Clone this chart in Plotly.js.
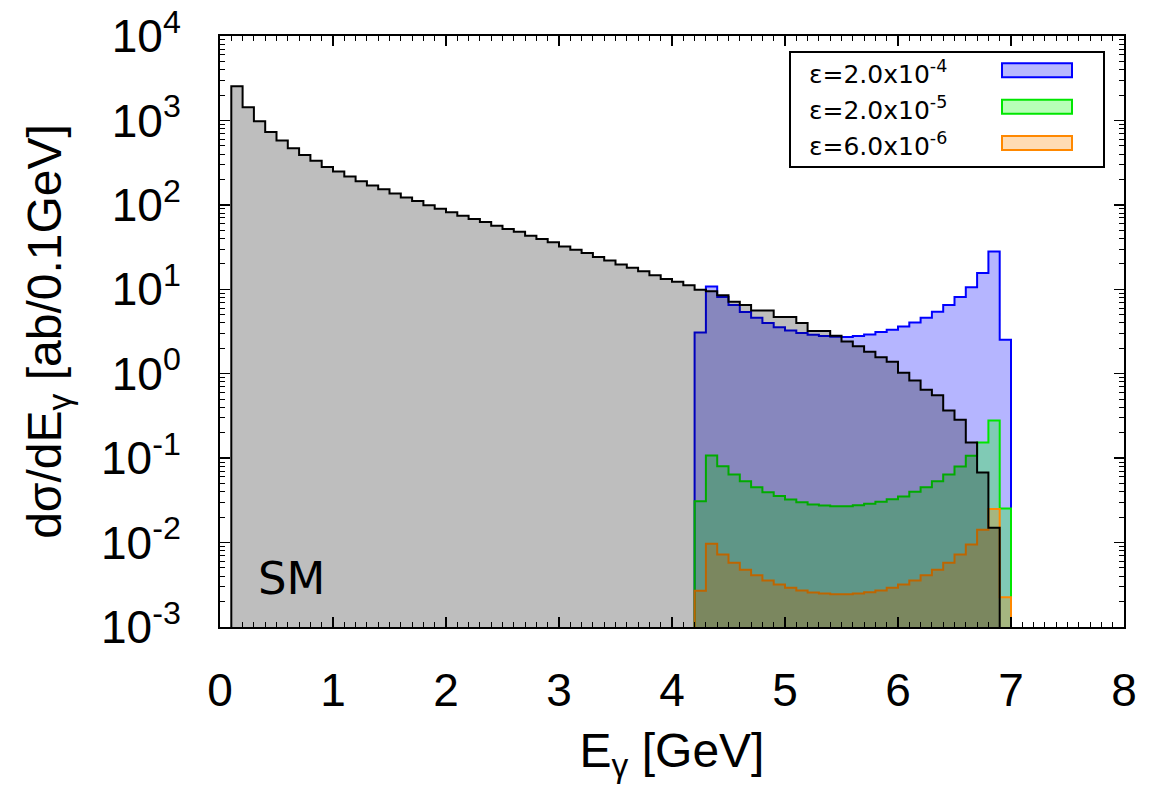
<!DOCTYPE html>
<html>
<head>
<meta charset="utf-8">
<script src="https://cdn.plot.ly/plotly-3.0.1.min.js"></script>
<style>
html,body{margin:0;padding:0;background:#ffffff;}
#chart{width:1150px;height:796px;}
</style>
</head>
<body>
<div id="chart"></div>
<script>
// ---------------- data ----------------
const binWidth = 0.1;

// SM background, bins starting at 0.1 GeV
const smStart = 0.1;
const smValues = [
  2535, 1429, 975, 729, 577, 467, 389, 334, 281,
  249, 216, 191, 169, 153, 136, 122, 111, 98.6, 90,
  82, 74.5, 68, 62.5, 56.6, 51.6, 48, 43, 39.4, 36,
  32.2, 29.4, 26.9, 24.1, 22, 19.7, 18, 16.4, 14.7, 13.2,
  12.3, 11.2, 9.9, 9.5, 8.5, 7.1, 6.5, 5.6, 5.6, 4.7,
  4.7, 4.0, 3.2, 3.2, 2.82, 2.4, 2.11, 1.82, 1.57, 1.39,
  1.03, 0.83, 0.645, 0.557, 0.367, 0.285, 0.153, 0.0678, 0.015
];

// signal histograms, bins starting at 4.2 GeV
const sigStart = 4.2;
const epsA = [ // eps = 2.0e-4
  3.08, 10.8, 8.1, 6.5, 5.4, 4.6, 4.0, 3.56, 3.26, 3.03,
  2.9, 2.79, 2.74, 2.72, 2.8, 2.92, 3.11, 3.32, 3.63, 4.05,
  4.6, 5.42, 6.5, 8.1, 10.6, 15.6, 28, 2.53
];
const epsB = [ // eps = 2.0e-5
  0.0309, 0.1077, 0.0804, 0.0641, 0.0534, 0.0453, 0.0395, 0.0355, 0.0324, 0.0301,
  0.0283, 0.0275, 0.027, 0.027, 0.0277, 0.0288, 0.0304, 0.0327, 0.0352, 0.040,
  0.0453, 0.0534, 0.064, 0.0797, 0.1067, 0.153, 0.28, 0.0254
];
const epsC = [ // eps = 6.0e-6
  0.00269, 0.0097, 0.00723, 0.00576, 0.00476, 0.00411, 0.00356, 0.00319, 0.00291, 0.0027,
  0.00256, 0.00249, 0.00245, 0.00245, 0.00249, 0.00258, 0.0027, 0.00291, 0.00319, 0.00356,
  0.00411, 0.00476, 0.00576, 0.00723, 0.0095, 0.0142, 0.0249, 0.00225
];

const legendLabels = [
  'ε=2.0x10<sup>-4</sup>',
  'ε=2.0x10<sup>-5</sup>',
  'ε=6.0x10<sup>-6</sup>'
];
const xTickVals = [0, 1, 2, 3, 4, 5, 6, 7, 8];
const yTickVals = [1e-3, 1e-2, 1e-1, 1e0, 1e1, 1e2, 1e3, 1e4];
const yTickText = ['10<sup>-3</sup>', '10<sup>-2</sup>', '10<sup>-1</sup>', '10<sup>0</sup>',
                   '10<sup>1</sup>', '10<sup>2</sup>', '10<sup>3</sup>', '10<sup>4</sup>'];

// ---------------- styling ----------------
const BASE = 1e-5; // baseline below the visible axis range
const colors = {
  sm:   {line: '#000000', fill: 'rgba(0,0,0,0.255)'},
  a:    {line: '#0000ff', fill: 'rgba(0,0,255,0.29)'},
  b:    {line: '#00e600', fill: 'rgba(0,255,0,0.29)'},
  c:    {line: '#ff8800', fill: 'rgba(255,136,0,0.29)'}
};

function r2(v){ return Math.round(v * 1000) / 1000; }

function stepTrace(start, vals, col){
  const x = [start], y = [BASE];
  vals.forEach((v, i) => { x.push(r2(start + i * binWidth)); y.push(v); });
  const end = r2(start + vals.length * binWidth);
  x.push(end); y.push(vals[vals.length - 1]);
  x.push(end); y.push(BASE);
  return {
    type: 'scatter', mode: 'lines', x: x, y: y,
    line: {shape: 'hv', color: col.line, width: 2},
    fill: 'toself', fillcolor: col.fill,
    hoverinfo: 'skip', showlegend: false
  };
}

const traces = [
  stepTrace(sigStart, epsA, colors.a),
  stepTrace(sigStart, epsB, colors.b),
  stepTrace(sigStart, epsC, colors.c),
  stepTrace(smStart, smValues, colors.sm)
];

// plot area in pixels
const L = 220, R = 26, T = 36, B = 169, W = 1150, H = 796;
const PW = W - L - R, PH = H - T - B;
const px = v => (v - L) / PW;
const py = v => 1 - (v - T) / PH;

// minor ticks for log axis
const yMinor = [];
for (let d = -3; d < 4; d++) for (let k = 2; k <= 9; k++) yMinor.push(k * Math.pow(10, d));

const shapes = [
  {type: 'rect', xref: 'paper', yref: 'paper', x0: px(790), x1: px(1104), y0: py(52), y1: py(167),
   line: {color: '#000', width: 2}, fillcolor: '#ffffff', layer: 'above'}
];
const swatchY = [70.3, 106.7, 143];
const swatchCols = [colors.a, colors.b, colors.c];
const swatchFill = ['#b8b8ff', '#b8ffb8', '#ffdcb4'];
const annotations = [];
swatchY.forEach((yc, i) => {
  shapes.push({type: 'rect', xref: 'paper', yref: 'paper', x0: px(1002), x1: px(1072),
    y0: py(yc - 7), y1: py(yc + 7), line: {color: swatchCols[i].line, width: 2},
    fillcolor: swatchFill[i], layer: 'above'});
  annotations.push({xref: 'paper', yref: 'paper', x: px(807), y: py(yc + 2),
    xanchor: 'left', yanchor: 'middle', showarrow: false, text: legendLabels[i],
    font: {family: 'DejaVu Sans', size: 25, color: '#000'}});
});
annotations.push({xref: 'paper', yref: 'paper', x: px(256), y: py(578), xanchor: 'left', yanchor: 'middle',
  showarrow: false, text: 'SM', font: {family: 'DejaVu Sans', size: 45, color: '#000'}});

const axisFont = {family: 'Liberation Sans, Arial, sans-serif', size: 46, color: '#000'};

const layout = {
  width: W, height: H,
  margin: {l: L, r: R, t: T, b: B, pad: 0},
  paper_bgcolor: '#ffffff', plot_bgcolor: '#ffffff',
  showlegend: false,
  xaxis: {
    range: [0, 8], tickmode: 'array', tickvals: xTickVals, ticktext: xTickVals.map(String),
    ticks: 'inside', ticklen: 10, tickwidth: 1.5, tickcolor: '#000',
    minor: {tickmode: 'linear', tick0: 0, dtick: 0.1, ticks: 'inside', ticklen: 5, tickwidth: 1, tickcolor: '#000', showgrid: false},
    showline: true, linewidth: 2, linecolor: '#000', mirror: 'allticks',
    showgrid: false, zeroline: false,
    tickfont: axisFont, ticklabelstandoff: 22,
    title: {text: 'E<sub>γ</sub> [GeV]', font: {family: 'Liberation Sans, Arial, sans-serif', size: 48, color: '#000'}, standoff: 18}
  },
  yaxis: {
    type: 'log', range: [-3, 4], tickmode: 'array', tickvals: yTickVals, ticktext: yTickText,
    ticks: 'inside', ticklen: 10, tickwidth: 1.5, tickcolor: '#000',
    minor: {tickmode: 'array', tickvals: yMinor, ticks: 'inside', ticklen: 5, tickwidth: 1, tickcolor: '#000', showgrid: false},
    showline: true, linewidth: 2, linecolor: '#000', mirror: 'allticks',
    showgrid: false, zeroline: false,
    tickfont: axisFont, ticklabelstandoff: 28,
    title: {text: 'dσ/dE<sub>γ</sub> [ab/0.1GeV]', font: {family: 'Liberation Sans, Arial, sans-serif', size: 48, color: '#000'}, standoff: 24}
  },
  shapes: shapes,
  annotations: annotations
};

Plotly.newPlot('chart', traces, layout, {staticPlot: true, displayModeBar: false});
</script>
</body>
</html>
